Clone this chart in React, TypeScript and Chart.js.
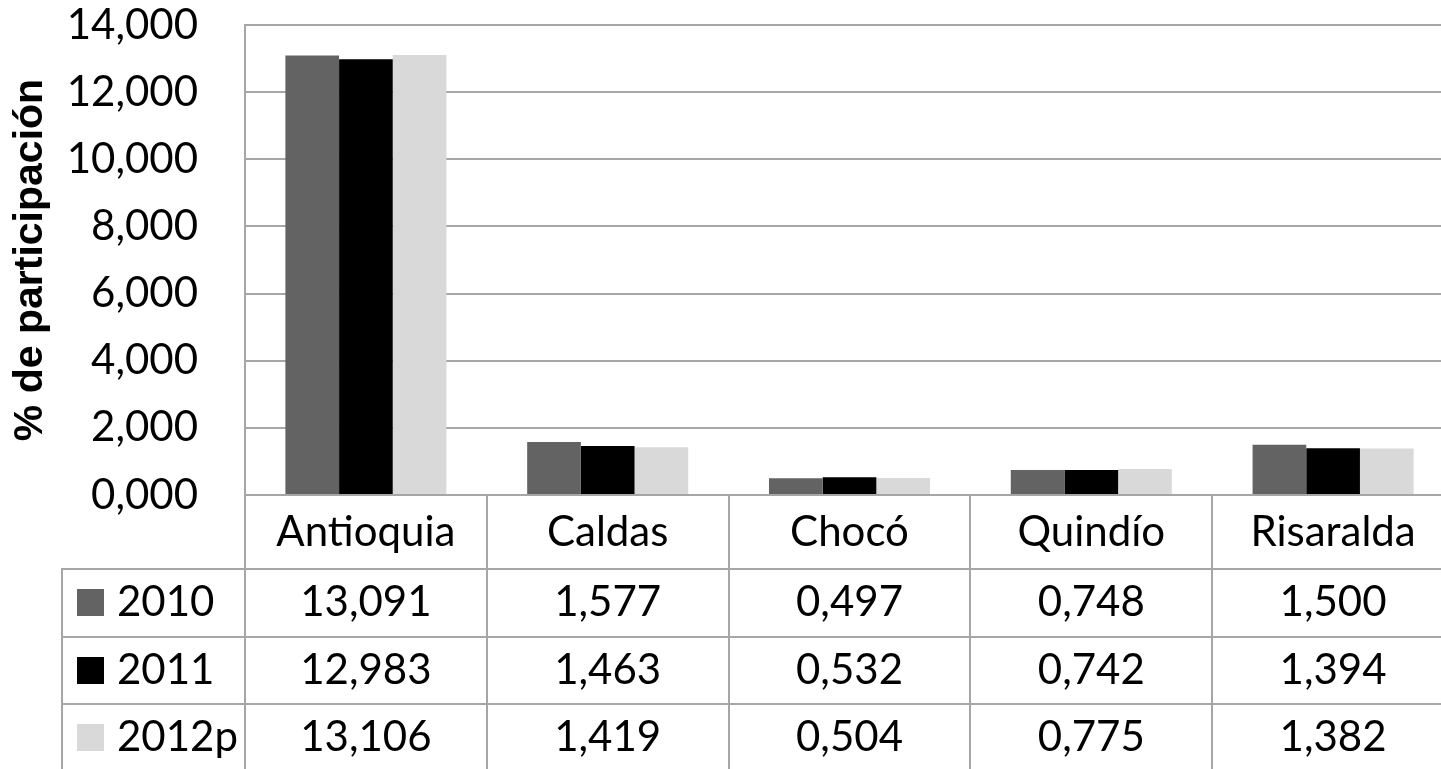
import React, { useEffect, useRef } from "react";
import { Chart, registerables } from "chart.js";

Chart.register(...registerables);

// ---- data ----
const categories = ["Antioquia", "Caldas", "Chocó", "Quindío", "Risaralda"];
const seriesNames = ["2010", "2011", "2012p"];
const values2010 = [13.091, 1.577, 0.497, 0.748, 1.5];
const values2011 = [12.983, 1.463, 0.532, 0.742, 1.394];
const values2012p = [13.106, 1.419, 0.504, 0.775, 1.382];
const seriesColors = ["#636363", "#000000", "#d9d9d9"];
const yMin = 0;
const yMax = 14;
const yStep = 2;
const yTitle = "% de participación";

// ---- style ----
const W = 1460;
const H = 800;
const GRID = "#a6a6a6";
const FONT = "Lato";
const FS = 42;
const CAT_ROW_H = 74;
const ROW_H = 67.5;
const TABLE_LEFT = 62;

const fmt = (v: number) => Number(v).toFixed(3).replace(".", ",");

const allSeries = [values2010, values2011, values2012p];

const tablePlugin = {
  id: "dataTable",
  afterDraw(chart: any) {
    const ctx: CanvasRenderingContext2D = chart.ctx;
    const xs = chart.scales.x;
    const area = chart.chartArea;
    const n = categories.length;
    const colW = (xs.right - xs.left) / n;
    const top = area.bottom;
    const rowsTop = top + CAT_ROW_H;
    const bottom = rowsTop + ROW_H * seriesNames.length;

    ctx.save();
    ctx.strokeStyle = GRID;
    ctx.lineWidth = 2;
    ctx.beginPath();
    for (let k = 0; k <= n; k++) {
      const x = Math.round(xs.left + k * colW);
      ctx.moveTo(x, top);
      ctx.lineTo(x, bottom);
    }
    ctx.moveTo(TABLE_LEFT, rowsTop);
    ctx.lineTo(TABLE_LEFT, bottom);
    for (let r = 0; r <= seriesNames.length; r++) {
      const y = Math.round(rowsTop + r * ROW_H);
      ctx.moveTo(TABLE_LEFT - 1, y);
      ctx.lineTo(xs.right, y);
    }
    ctx.stroke();

    ctx.fillStyle = "#000";
    ctx.font = `${FS}px ${FONT}`;
    ctx.textAlign = "center";
    ctx.textBaseline = "middle";
    categories.forEach((c, i) => {
      ctx.fillText(c, xs.getPixelForValue(i), top + CAT_ROW_H / 2);
    });

    seriesNames.forEach((name, r) => {
      const cy = rowsTop + ROW_H * (r + 0.5);
      ctx.fillStyle = seriesColors[r];
      ctx.fillRect(77, Math.round(cy - 13.5), 27, 27);
      ctx.fillStyle = "#000";
      ctx.textAlign = "left";
      ctx.fillText(name, 117, cy);
      ctx.textAlign = "center";
      allSeries[r].forEach((v, i) => {
        ctx.fillText(fmt(v), xs.getPixelForValue(i), cy);
      });
    });
    ctx.restore();
  },
};

export default function App() {
  const ref = useRef<HTMLCanvasElement | null>(null);

  useEffect(() => {
    if (!ref.current) return;
    const chart = new Chart(ref.current, {
      type: "bar",
      data: {
        labels: categories,
        datasets: seriesNames.map((name, i) => ({
          label: name,
          data: allSeries[i],
          backgroundColor: seriesColors[i],
          borderWidth: 0,
          categoryPercentage: 0.666,
          barPercentage: 1,
        })),
      },
      options: {
        responsive: false,
        animation: false,
        layout: { padding: { left: 0, top: 25, right: 6, bottom: 0 } },
        plugins: {
          legend: { display: false },
          tooltip: { enabled: false },
        },
        scales: {
          x: {
            grid: { display: false },
            border: { display: true, color: GRID, width: 2 },
            ticks: { display: false },
            afterFit: (s: any) => {
              s.height = H - 495;
            },
          },
          y: {
            min: yMin,
            max: yMax,
            ticks: {
              stepSize: yStep,
              callback: (v: any) => fmt(v),
              font: { family: FONT, size: FS },
              color: "#000",
              padding: 47,
            },
            grid: { color: GRID, lineWidth: 2, drawTicks: false },
            border: { display: true, color: GRID, width: 2 },
            title: {
              display: true,
              text: yTitle,
              color: "#000",
              font: { family: "'Liberation Sans', Arial", size: 41, weight: "bold" },
              padding: { top: 6, bottom: 0 },
            },
            afterFit: (s: any) => {
              s.width = 245;
              s.paddingTop = 10;
              s.paddingBottom = 10;
            },
          },
        },
      },
      plugins: [tablePlugin],
    });
    return () => chart.destroy();
  }, []);

  return (
    <div
      style={{
        position: "fixed",
        left: 0,
        top: 0,
        width: 1441,
        height: 769,
        overflow: "hidden",
        background: "#fff",
      }}
    >
      <canvas ref={ref} width={W} height={H} style={{ display: "block", width: W, height: H }} />
    </div>
  );
}
